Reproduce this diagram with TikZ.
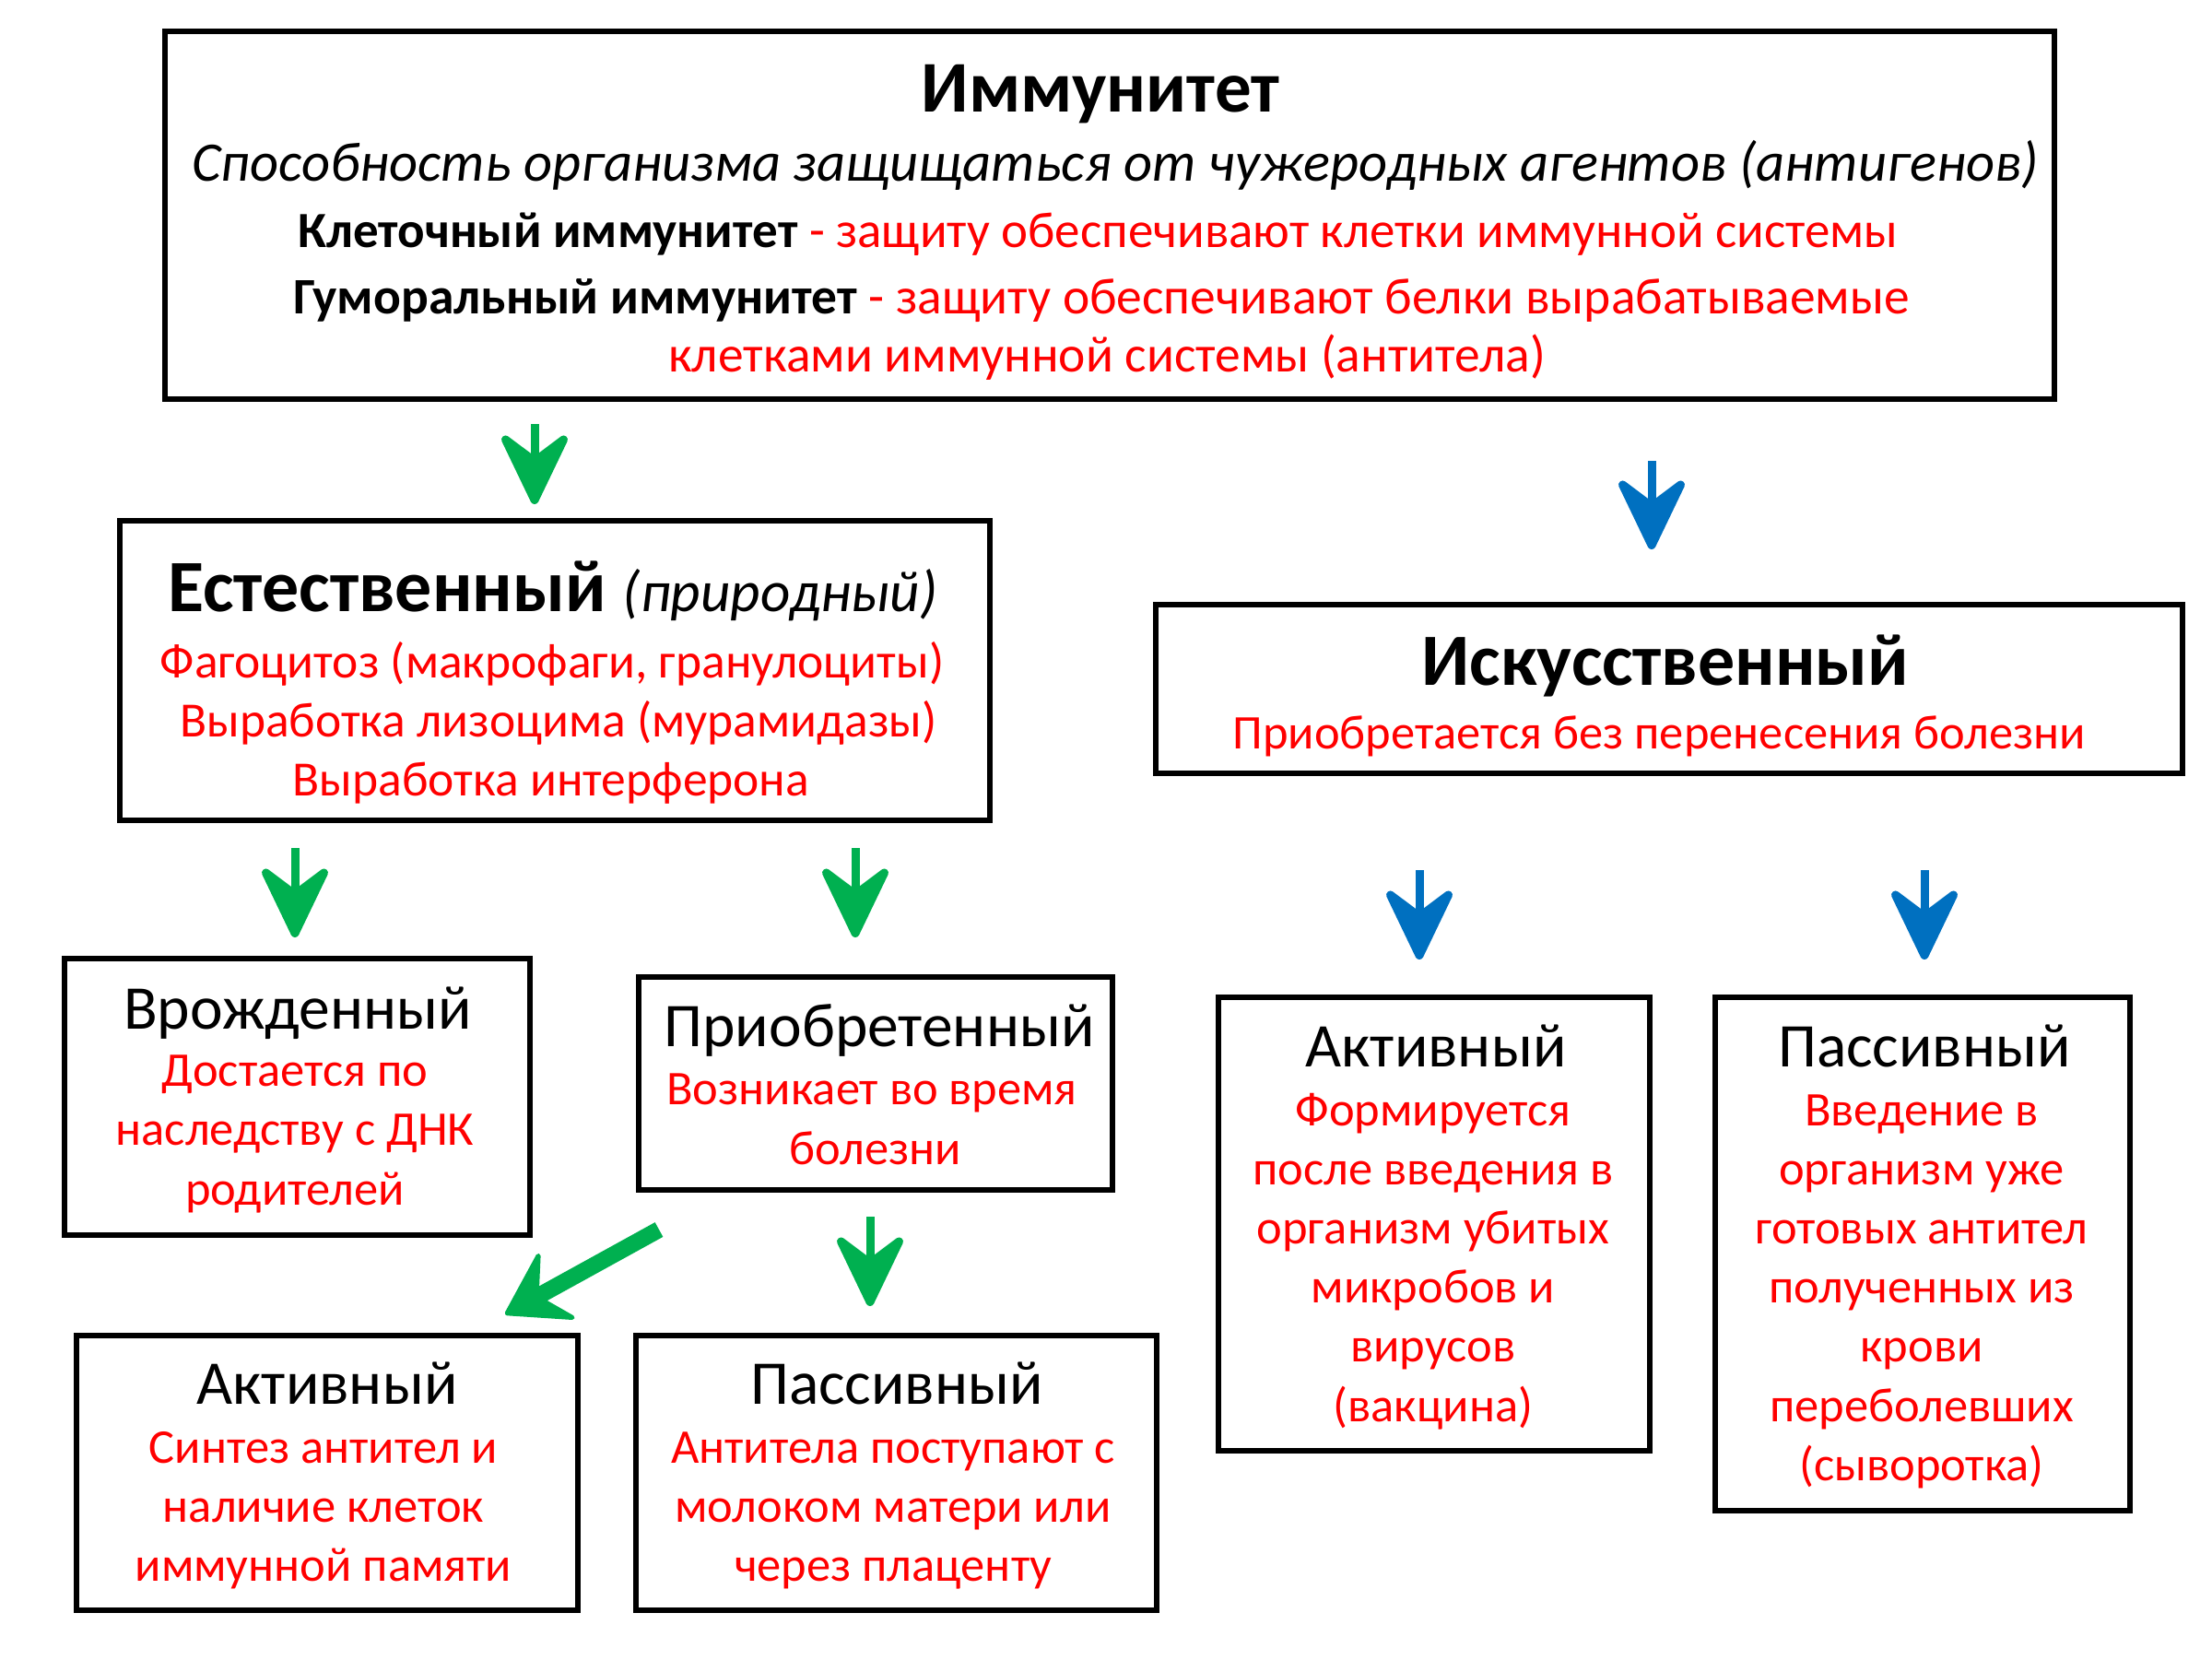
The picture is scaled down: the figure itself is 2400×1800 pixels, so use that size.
\documentclass[tikz,border=0pt]{standalone}
\usepackage{fontspec}
\setmainfont{Carlito}
\usetikzlibrary{arrows.meta}
\definecolor{ggreen}{RGB}{0,176,80}
\definecolor{bblue}{RGB}{0,112,192}
\definecolor{rred}{RGB}{255,0,0}
\newcommand\fsTitle{\fontsize{79}{90}\selectfont}
\newcommand\fsNat{\fontsize{80}{90}\selectfont}
\newcommand\fsItal{\fontsize{60.5}{70}\selectfont}
\newcommand\fsMid{\fontsize{55.5}{64}\selectfont}
\newcommand\fsHead{\fontsize{67.5}{74}\selectfont}
\newcommand\fsRed{\fontsize{52.5}{58}\selectfont}
\newcommand\fsRedB{\fontsize{53.5}{60}\selectfont}
\begin{document}
\begin{tikzpicture}[x=1pt,y=-1pt,
  box/.style={draw=black, line width=6pt, inner sep=0pt, outer sep=0pt, rectangle},
  ln/.style={anchor=base, inner sep=0pt, outer sep=0pt},
  redtxt/.style={ln, text=rred, font=\fsRed},
  headtxt/.style={ln, text=black, font=\fsHead},
  garr/.style={draw=ggreen, line width=9pt, -{Stealth[length=90pt, width=86pt, inset=32pt, round]}},
  barr/.style={draw=bblue, line width=9pt, -{Stealth[length=90pt, width=86pt, inset=32pt, round]}},
  darr/.style={draw=ggreen, line width=18pt, -{Stealth[length=72pt, width=92pt, inset=28pt, round, line width=5pt]}}
]
\useasboundingbox (0,0) rectangle (2400,1800);
\fill[white] (0,0) rectangle (2400,1800);

% boxes
\node[box, minimum width=2050pt, minimum height=399pt] (top) at (1204,233.5) {};
\node[box, minimum width=944pt, minimum height=325pt] (nat) at (602,727.5) {};
\node[box, minimum width=1114pt, minimum height=183pt] (art) at (1811,747.5) {};
\node[box, minimum width=505pt, minimum height=300pt] (inn) at (322.5,1190) {};
\node[box, minimum width=514pt, minimum height=231pt] (acq) at (950,1175.5) {};
\node[box, minimum width=544pt, minimum height=298pt] (actL) at (355,1598) {};
\node[box, minimum width=565pt, minimum height=298pt] (pasL) at (972.5,1598) {};
\node[box, minimum width=468pt, minimum height=492pt] (actR) at (1556,1328) {};
\node[box, minimum width=450pt, minimum height=557pt] (pasR) at (2086,1360.5) {};

% top box text
\node[ln] (imT) at (1194,121) {\fsTitle\bfseries Иммунитет};
\node[ln] (imD) at (1210,196) {\fsItal\itshape Способность организма защищаться от чужеродных агентов (антигенов)};
\node[ln] (imK) at (1191,268) {\fontsize{55}{64}\selectfont\bfseries Клеточный иммунитет \mdseries\color{rred}- защиту обеспечивают клетки иммунной системы};
\node[ln] (imG) at (1195,340) {\fsMid\bfseries Гуморальный иммунитет \mdseries\color{rred}- защиту обеспечивают белки вырабатываемые};
\node[ln] (imL) at (1201,403) {\fsMid\color{rred}клетками иммунной системы (антитела)};

% natural
\node[ln] (natH) at (600,663) {\fsNat\bfseries Естественный {\fontsize{63}{70}\selectfont\mdseries\itshape (природный)}};
\node[redtxt, font=\fsRedB] (natA) at (599,735) {Фагоцитоз (макрофаги, гранулоциты)};
\node[redtxt, font=\fsRedB] (natB) at (606,799) {Выработка лизоцима (мурамидазы)};
\node[redtxt, font=\fsRedB] (natC) at (598,863) {Выработка интерферона};

% artificial
\node[ln] (artH) at (1807,743) {\fsNat\bfseries Искусственный};
\node[redtxt] (artA) at (1800,812) {Приобретается без перенесения болезни};

% innate
\node[headtxt] (innH) at (323,1116) {Врожденный};
\foreach \t [count=\i] in {Достается по, наследству с ДНК, родителей}
  \node[redtxt] (inn\i) at (320,{1178+64.5*(\i-1)}) {\t};

% acquired
\node[headtxt] (acqH) at (954,1135) {Приобретенный};
\node[redtxt] (acq1) at (946,1198) {Возникает во время};
\node[redtxt] (acq2) at (950,1263) {болезни};

% active left
\node[headtxt] (actLH) at (355,1523) {Активный};
\foreach \t [count=\i] in {Синтез антител и, наличие клеток, иммунной памяти}
  \node[redtxt] (actL\i) at (351,{1587+64*(\i-1)}) {\t};

% passive left
\node[headtxt] (pasLH) at (973,1523) {Пассивный};
\foreach \t [count=\i] in {Антитела поступают с, молоком матери или, через плаценту}
  \node[redtxt] (pasL\i) at (969,{1587+64*(\i-1)}) {\t};

% active right
\node[headtxt] (actRH) at (1558,1157) {Активный};
\foreach \t [count=\i] in {Формируется, после введения в, организм убитых, микробов и, вирусов, (вакцина)}
  \node[redtxt] (actR\i) at (1555,{1221+64.2*(\i-1)}) {\t};

% passive right
\node[headtxt] (pasRH) at (2088,1157) {Пассивный};
\foreach \t [count=\i] in {Введение в, организм уже, готовых антител, полученных из, крови, переболевших, (сыворотка)}
  \node[redtxt] (pasR\i) at (2085,{1221+64.2*(\i-1)}) {\t};

% arrow coordinates
\coordinate (g1s) at (580,460);  \coordinate (g1e) at (580,547);
\coordinate (b1s) at (1792,500); \coordinate (b1e) at (1792,596);
\coordinate (g2s) at (320,920);  \coordinate (g2e) at (320,1017);
\coordinate (g3s) at (928,920);  \coordinate (g3e) at (928,1017);
\coordinate (b2s) at (1540,944); \coordinate (b2e) at (1540,1041);
\coordinate (b3s) at (2088,944); \coordinate (b3e) at (2088,1041);
\coordinate (g4s) at (715,1334); \coordinate (g4e) at (548,1426);
\coordinate (g5s) at (944,1320); \coordinate (g5e) at (944,1417);

\draw[garr] (g1s) -- (g1e);
\draw[barr] (b1s) -- (b1e);
\draw[garr] (g2s) -- (g2e);
\draw[garr] (g3s) -- (g3e);
\draw[barr] (b2s) -- (b2e);
\draw[barr] (b3s) -- (b3e);
\draw[darr] (g4s) -- (g4e);
\draw[garr] (g5s) -- (g5e);
\end{tikzpicture}
\end{document}
